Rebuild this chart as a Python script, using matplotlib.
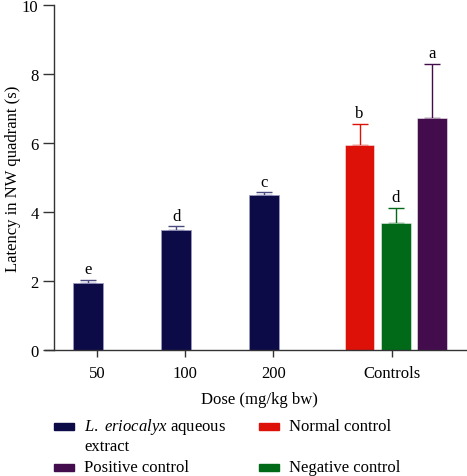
import numpy as np
import matplotlib.pyplot as plt
from matplotlib.patches import Rectangle

plt.rcParams['font.family'] = 'Liberation Serif'
plt.rcParams['mathtext.fontset'] = 'custom'
plt.rcParams['mathtext.rm'] = 'Liberation Serif'
plt.rcParams['mathtext.it'] = 'Liberation Serif:italic'

# data
groups = ['50', '100', '200', 'Controls']
dose_means = [1.94, 3.49, 4.50]
dose_err = [0.09, 0.09, 0.07]
dose_letters = ['e', 'd', 'c']
ctrl_names = ['Normal control', 'Negative control', 'Positive control']
ctrl_means = [5.93, 3.68, 6.72]
ctrl_err = [0.63, 0.44, 1.57]
ctrl_letters = ['b', 'd', 'a']

navy = '#0c0b48'
ctrl_colors = ['#dd1108', '#006a19', '#430c4c']
axcol = '#333333'
fs = 12

W, H = 467, 477
fig = plt.figure(figsize=(W / 100, H / 100), dpi=100)
ax = fig.add_axes([45 / W, 1 - 351 / H, (W - 45) / W, (351 - 6) / H])

tick_pos = np.array([0, 1, 2, 3.35])
w = 0.34
dose_x = tick_pos[:3] - 0.1
ctrl_x = tick_pos[3] + np.array([-0.37, 0.04, 0.45])

ax.bar(dose_x, dose_means, width=w, color=navy, edgecolor='#9a9ac0', linewidth=0.6, zorder=2)
ax.errorbar(dose_x, dose_means, yerr=[np.zeros(3), dose_err], fmt='none',
            ecolor='#4a4a80', capsize=6, elinewidth=1, capthick=1, zorder=1)
for x, m, e, l in zip(dose_x, dose_means, dose_err, dose_letters):
    ax.text(x, m + e + 0.08, l, ha='center', va='bottom', fontsize=fs)

for x, m, e, l, c in zip(ctrl_x, ctrl_means, ctrl_err, ctrl_letters, ctrl_colors):
    ax.bar(x, m, width=w, color=c, edgecolor='#f0f0f0', linewidth=0.4, zorder=2)
    ax.errorbar(x, m, yerr=[[0], [e]], fmt='none', ecolor=c, capsize=6,
                elinewidth=1, capthick=1, zorder=1)
    ax.text(x, m + e + 0.08, l, ha='center', va='bottom', fontsize=fs)

ax.set_xlim(-0.59, 4.2)
ax.set_ylim(0, 10)
ax.spines['left'].set_position(('data', -0.49))
ax.set_yticks(range(0, 11, 2))
ax.set_xticks(tick_pos)
ax.set_xticklabels(groups)
ax.tick_params(axis='both', labelsize=fs, colors='black', width=1, color=axcol)
ax.tick_params(axis='y', length=8, pad=3)
ax.tick_params(axis='x', length=5, pad=6)
for s in ['top', 'right']:
    ax.spines[s].set_visible(False)
for s in ['left', 'bottom']:
    ax.spines[s].set_color(axcol)
    ax.spines[s].set_linewidth(1)
ax.set_ylabel('Latency in NW quadrant (s)', fontsize=fs)
ax.set_xlabel('Dose (mg/kg bw)', fontsize=fs)
ax.yaxis.set_label_coords((21 - 45) / (W - 45), 0.5)
ax.xaxis.set_label_coords((259 - 45) / (W - 45), -0.12)

# legend drawn by hand to get the two-line first entry aligned like the original
legend_items = [
    (54, 427, navy, r'$\it{L.\ eriocalyx}$ aqueous'),
    (54, 468, ctrl_colors[2], 'Positive control'),
    (259, 427, ctrl_colors[0], ctrl_names[0]),
    (259, 468, ctrl_colors[1], ctrl_names[1]),
]
for px, py, c, txt in legend_items:
    fig.patches.append(Rectangle((px / W, 1 - (py + 3.5) / H), 20 / W, 7 / H,
                                 transform=fig.transFigure, color=c))
    fig.text((px + 30) / W, 1 - py / H, txt, fontsize=fs, va='center', ha='left')
fig.text(84 / W, 1 - 447 / H, 'extract', fontsize=fs, va='center', ha='left')

fig.savefig('out.png', dpi=100)
